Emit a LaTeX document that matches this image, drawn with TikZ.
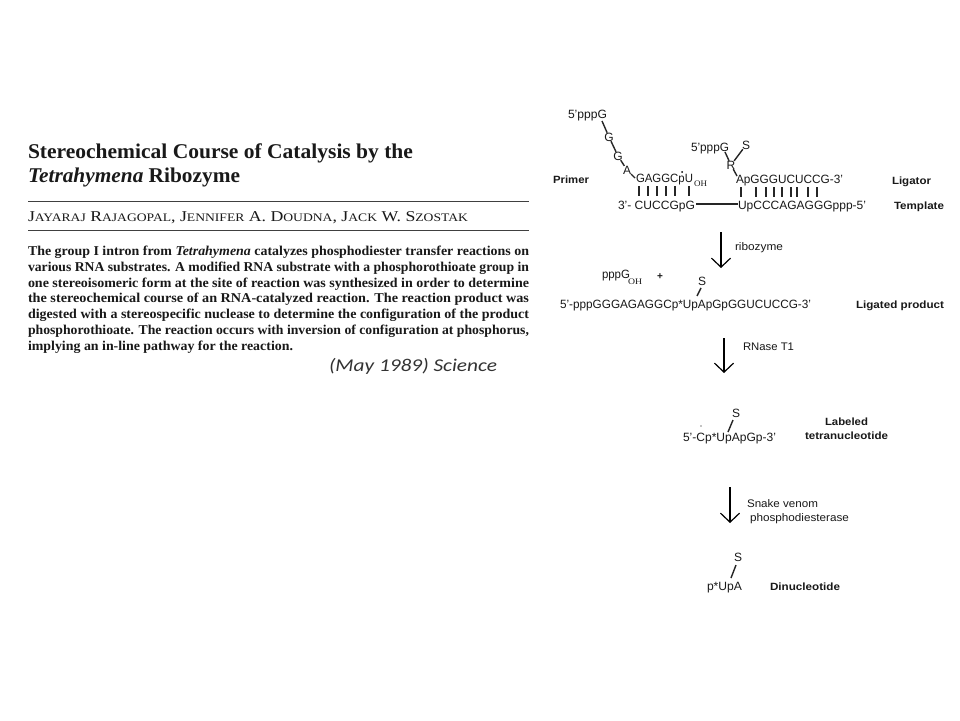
\documentclass[tikz,border=0pt]{standalone}
\usepackage{fontspec}
\setmainfont{Liberation Serif}
\setsansfont{Liberation Sans}
\newfontfamily\calib{Carlito}
\usetikzlibrary{arrows.meta}
\newcommand{\fw}[2]{\resizebox{#1pt}{\height}{#2}}
\newcommand{\smc}[1]{{\fontsize{11.5pt}{12pt}\selectfont #1}}
\tikzset{
 x=1pt,y=-1pt,
 txt/.style={inner sep=0pt,outer sep=0pt,anchor=base west,text=black!90},
 seq/.style={txt,font=\sffamily\fontsize{12pt}{13pt}\selectfont},
 lab/.style={txt,font=\sffamily\fontsize{11pt}{12pt}\selectfont},
 tag/.style={txt,font=\sffamily\bfseries\fontsize{10.5pt}{12pt}\selectfont},
 sub/.style={txt,font=\rmfamily\fontsize{8.5pt}{10pt}\selectfont},
 letter/.style={inner sep=0pt,outer sep=0pt,text=black!90,font=\sffamily\fontsize{12pt}{13pt}\selectfont},
 title/.style={txt,font=\rmfamily\bfseries\fontsize{21pt}{24pt}\selectfont},
 auth/.style={txt,font=\rmfamily\fontsize{15pt}{18pt}\selectfont},
 abs/.style={txt,font=\rmfamily\bfseries\fontsize{13.5pt}{16pt}\selectfont},
 rulekey/.style={line width=1pt,black!75},
 bond/.style={line width=1.4pt,black!85},
 pair/.style={line width=1.2pt,black!85},
 react/.style={line width=1.2pt,black,-{Straight Barb[length=9pt,width=19pt,line width=1.2pt]}},
 dotmark/.style={circle,fill=black,inner sep=0pt,minimum size=2pt},
}
\begin{document}
\begin{tikzpicture}
\useasboundingbox (0,0) rectangle (960,720);
\fill[white] (0,0) rectangle (960,720);
% ---------- article header
\node[title] (t1) at (28,158) {\fw{385}{Stereochemical Course of Catalysis by the}};
\node[title] (t2) at (28,182) {\fw{212}{\textit{Tetrahymena} Ribozyme}};
\draw[rulekey] (28,201) -- (529,201);
\node[auth] (au) at (28,221) {\fw{440}{J\smc{AYARAJ} R\smc{AJAGOPAL}, J\smc{ENNIFER} A. D\smc{OUDNA}, J\smc{ACK} W. S\smc{ZOSTAK}}};
\draw[rulekey] (28,230) -- (529,230);
\node[abs] (a1) at (28,255) {\fw{501}{The group I intron from \textit{Tetrahymena} catalyzes phosphodiester transfer reactions on}};
\node[abs] (a2) at (28,271) {\fw{501}{various RNA substrates. A modified RNA substrate with a phosphorothioate group in}};
\node[abs] (a3) at (28,287) {\fw{501}{one stereoisomeric form at the site of reaction was synthesized in order to determine}};
\node[abs] (a4) at (28,302) {\fw{501}{the stereochemical course of an RNA-catalyzed reaction. The reaction product was}};
\node[abs] (a5) at (28,318) {\fw{501}{digested with a stereospecific nuclease to determine the configuration of the product}};
\node[abs] (a6) at (28,334) {\fw{501}{phosphorothioate. The reaction occurs with inversion of configuration at phosphorus,}};
\node[abs] (a7) at (28,350) {\fw{265}{implying an in-line pathway for the reaction.}};
\node[txt,font=\calib\itshape\fontsize{18pt}{20pt}\selectfont,text=black!80] (cit) at (329,371) {\fw{168}{(May 1989) Science}};
% ---------- scheme: substrate complex
\node[seq] (p5) at (568,118) {\fw{39}{5'pppG}};
\node[letter] (g1) at (609,137) {G};
\node[letter] (g2) at (618,156) {G};
\node[letter] (a0) at (627,170) {A};
\node[seq] (prim) at (636,182) {\fw{57}{GAGGCpU}};
\node[sub] (oh1) at (694,186) {\fw{13}{OH}};
\node[dotmark] (d1) at (682,172) {};
\node[tag] (lprim) at (553,183) {\fw{36}{Primer}};
\node[seq] (tl) at (618,209) {\fw{77}{3'- CUCCGpG}};
\node[seq] (tr) at (738,209) {\fw{128}{UpCCCAGAGGGppp-5'}};
\node[seq] (lig) at (736,183) {\fw{107}{ApGGGUCUCCG-3'}};
\node[seq] (p5b) at (691,151) {\fw{38}{5'pppG}};
\node[letter] (rr) at (731,165) {R};
\node[letter] (s1) at (746,145) {S};
\node[tag] (llig) at (892,184) {\fw{39}{Ligator}};
\node[tag] (ltem) at (894,209) {\fw{50}{Template}};
\coordinate (bs0) at (602,121);
\coordinate (bs1) at (725,152);
\coordinate (bs2) at (737,176);
\coordinate (bs3) at (635,178);
\coordinate (tle) at (696,204);
\coordinate (tre) at (738,204);
\draw[bond] (bs0) -- (g1);
\draw[bond] (g1) -- (g2);
\draw[bond] (g2) -- (a0);
\draw[bond] (a0) -- (bs3);
\draw[bond] (tle) -- (tre);
\draw[bond] (bs1) -- (rr);
\draw[bond] (s1) -- (rr);
\draw[bond] (rr) -- (bs2);
\foreach \x in {639,648,657,666,675,689} \draw[pair] (\x,186) -- (\x,196);
\foreach \x in {741,756,766,774,782,791,797,808,817} \draw[pair] (\x,187) -- (\x,197);
% ---------- step 1
\coordinate (ar1a) at (721,232);
\coordinate (ar1b) at (721,268);
\draw[react] (ar1a) -- (ar1b);
\node[lab] (ribo) at (735,250) {\fw{48}{ribozyme}};
\node[seq] (ppg) at (602,278) {\fw{28}{pppG}};
\node[sub] (oh2) at (628,284) {\fw{14}{OH}};
\node[letter,font=\sffamily\bfseries\fontsize{10pt}{12pt}\selectfont] (plus) at (660,277) {+};
\node[letter] (s2) at (702,281) {S};
\node[seq] (prod) at (560,308) {\fw{251}{5'-pppGGGAGAGGCp*UpApGpGGUCUCCG-3'}};
\node[tag] (lprod) at (856,308) {\fw{88}{Ligated product}};
\coordinate (s2a) at (701,288);
\coordinate (s2b) at (697,296);
\draw[bond] (s2a) -- (s2b);
% ---------- step 2
\coordinate (ar2a) at (724,338);
\coordinate (ar2b) at (724,373);
\draw[react] (ar2a) -- (ar2b);
\node[lab] (rn) at (743,350) {\fw{51}{RNase T1}};
\node[letter] (s3) at (736,413) {S};
\node[seq] (tet) at (683,441) {\fw{93}{5'-Cp*UpApGp-3'}};
\coordinate (s3a) at (733,420);
\coordinate (s3b) at (728,432);
\draw[bond] (s3a) -- (s3b);
\node[dotmark,minimum size=1.4pt] (d2) at (701,426) {};
\node[tag] (ltet1) at (825,425) {\fw{43}{Labeled}};
\node[tag] (ltet2) at (805,439) {\fw{83}{tetranucleotide}};
% ---------- step 3
\coordinate (ar3a) at (730,487);
\coordinate (ar3b) at (730,523);
\draw[react] (ar3a) -- (ar3b);
\node[lab] (sv) at (747,507) {\fw{71}{Snake venom}};
\node[lab] (pd) at (750,521) {\fw{99}{phosphodiesterase}};
\node[letter] (s4) at (738,557) {S};
\node[seq] (di) at (707,590) {\fw{35}{p*UpA}};
\coordinate (s4a) at (736,565);
\coordinate (s4b) at (731,578);
\draw[bond] (s4a) -- (s4b);
\node[tag] (ldi) at (770,590) {\fw{70}{Dinucleotide}};
\end{tikzpicture}
\end{document}
